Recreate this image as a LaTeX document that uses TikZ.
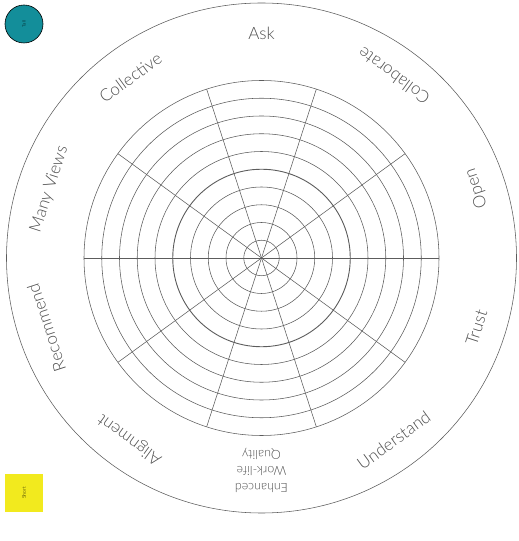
\documentclass[tikz,border=0pt]{standalone}
\usepackage{fontspec}
\setmainfont{Lato}[UprightFont=* Light]
\usepackage{xcolor}
\usepackage{tikz}
\definecolor{ringgray}{HTML}{5C5C5C}
\definecolor{labelgray}{HTML}{4F4F4F}
\definecolor{tallteal}{HTML}{138E9A}
\definecolor{shortyellow}{HTML}{F2EA1E}

\begin{document}
\begin{tikzpicture}[x=1pt,y=1pt,ring/.style={draw=ringgray,line width=0.55pt},midring/.style={draw=ringgray,line width=0.9pt},lab/.style={text=labelgray,font=\fontsize{17}{20}\selectfont,inner sep=0pt}]
				\useasboundingbox (0,0) rectangle (519,541);
				\coordinate (O) at (261.5,283);
				\draw[ring] (O) circle[radius=255pt];
				\draw[ring] (O) circle[radius=17.75pt];
				\draw[ring] (O) circle[radius=35.5pt];
				\draw[ring] (O) circle[radius=53.25pt];
				\draw[ring] (O) circle[radius=71pt];
				\draw[midring] (O) circle[radius=88.75pt];
				\draw[ring] (O) circle[radius=106.5pt];
				\draw[ring] (O) circle[radius=124.25pt];
				\draw[ring] (O) circle[radius=142pt];
				\draw[ring] (O) circle[radius=159.75pt];
				\draw[ring] (O) circle[radius=177.5pt];
				\draw[ring] (O) ++(0:177.5pt) -- ++(180:355pt);
				\draw[ring] (O) ++(36:177.5pt) -- ++(216:355pt);
				\draw[ring] (O) ++(72:177.5pt) -- ++(252:355pt);
				\draw[ring] (O) ++(108:177.5pt) -- ++(288:355pt);
				\draw[ring] (O) ++(144:177.5pt) -- ++(324:355pt);
				\path (O) ++(90:225pt) node[lab] (ask) {Ask};
				\path (O) ++(54:225pt) node[lab,rotate=144] (collaborate) {Collaborate};
				\path (O) ++(18:226pt) node[lab,rotate=108] (open) {Open};
				\path (O) ++(-18:226pt) node[lab,rotate=72] (trust) {Trust};
				\path (O) ++(-54:225pt) node[lab,rotate=36] (understand) {Understand};
				\path (O) ++(-90:212pt) node[lab,rotate=180,align=center,font=\fontsize{12.5}{16.5}\selectfont] (quality) {Enhanced\\Work-life\\Quality};
				\path (O) ++(-126:224pt) node[lab,rotate=144] (alignment) {Alignment};
				\path (O) ++(-162:226pt) node[lab,rotate=108] (recommend) {Recommend};
				\path (O) ++(162:223pt) node[lab,rotate=72] (manyviews) {Many Views};
				\path (O) ++(126:223pt) node[lab,rotate=36] (collective) {Collective};
				\node[circle,draw=black,line width=0.6pt,fill=tallteal,minimum size=38pt,inner sep=0pt] (tall) at (24,517) {};
				\node[rotate=90,font=\fontsize{4.5}{5}\selectfont,text=black] (talltext) at (tall) {Tall};
				\node[fill=shortyellow,minimum size=38pt,inner sep=0pt] (short) at (24,48) {};
				\node[rotate=90,font=\fontsize{5}{6}\selectfont,text=black] (shorttext) at (short) {Short};
			\end{tikzpicture}
\end{document}
